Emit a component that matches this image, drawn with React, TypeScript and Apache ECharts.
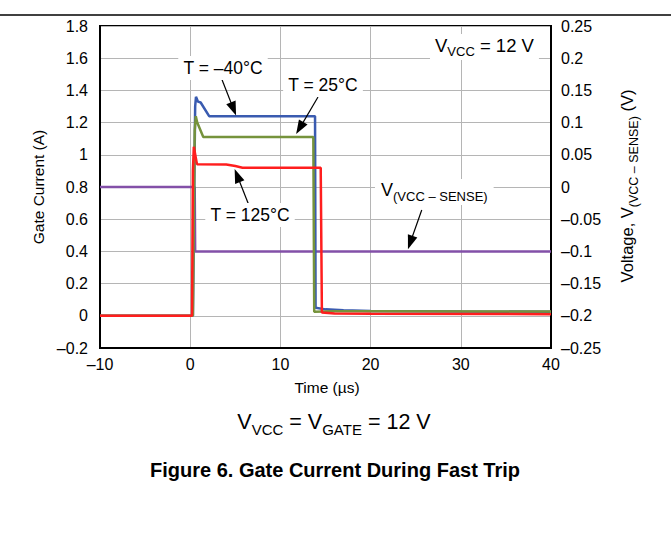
import React, { useEffect, useRef } from "react";
import * as echarts from "echarts";

// Time (µs) / value pairs
const blueTime = [-10, 0.3, 0.55, 0.64, 0.86, 1.16, 2.1, 13.84, 13.9, 15, 17, 20, 30, 40];
const blueCurrent = [0, 0, 1.3, 1.36, 1.33, 1.325, 1.24, 1.24, 0.05, 0.04, 0.034, 0.03, 0.027, 0.025];

const greenTime = [-10, 0.3, 0.5, 0.62, 0.78, 1.45, 13.65, 13.75, 16, 20, 40];
const greenCurrent = [0, 0, 1.15, 1.24, 1.2, 1.11, 1.11, 0.025, 0.028, 0.028, 0.027];

const redTime = [-10, 0.2, 0.3, 0.4, 0.75, 4.0, 5.0, 5.8, 14.47, 14.6, 16, 20, 40];
const redCurrent = [0, 0, 0.9, 1.05, 0.942, 0.94, 0.93, 0.92, 0.92, 0.02, 0.014, 0.012, 0.01];

const purpleTime = [-10, 0.5, 0.55, 40];
const purpleVoltage = [0, 0, -0.1, -0.1];

// Annotation arrows: [tStart, iStart, tEnd, iEnd] in left-axis data units
const arrowM40 = [3.41, 1.483, 4.8, 1.285];
const arrow25 = [14.17, 1.359, 12.14, 1.166];
const arrow125 = [6.52, 0.685, 5.21, 0.871];
const arrowV = [25.67, 0.657, 24.4, 0.455];

const xTicks = { min: -10, max: 40, interval: 10 };
const yLeftTicks = { min: -0.2, max: 1.8, interval: 0.2 };
const yRightTicks = { min: -0.25, max: 0.25, interval: 0.05 };

const FONT = "'Liberation Sans', Arial, Helvetica, sans-serif";

const pairs = (xs: number[], ys: number[]) => xs.map((x, i) => [x, ys[i]]);
const fmt = (v: number) => {
  const n = parseFloat(v.toFixed(3));
  const s = String(Math.abs(n));
  return n < 0 ? "\u2013" + s : s;
};
const arrowData = (a: number[]) => [{ coord: [a[0], a[1]] }, { coord: [a[2], a[3]] }];

export default function App() {
  const ref = useRef<HTMLDivElement>(null);
  useEffect(() => {
    if (!ref.current) return;
    const chart = echarts.init(ref.current, undefined, { renderer: "svg" });
    const labelStyle = { color: "#000", fontFamily: FONT, fontSize: 16 };
    const annot = (x: number, y: number, text: string, align = "center") => ({
      type: "text",
      x,
      y,
      z: 50,
      style: {
        text,
        align,
        verticalAlign: "middle",
        fill: "#000",
        font: `17.5px ${FONT}`,
        backgroundColor: "#fff",
        padding: [3, 5],
      },
    });
    chart.setOption({
      animation: false,
      grid: {
        left: 100,
        top: 26,
        width: 451,
        height: 322,
        show: true,
        borderColor: "#000",
        borderWidth: 2,
        backgroundColor: "transparent",
      },
      xAxis: {
        type: "value",
        ...xTicks,
        axisLine: { show: true, onZero: false, lineStyle: { color: "#000", width: 2 } },
        axisTick: { show: false },
        axisLabel: { ...labelStyle, margin: 8, formatter: fmt },
        splitLine: { show: true, lineStyle: { color: "#b5b5b5", width: 1 } },
      },
      yAxis: [
        {
          type: "value",
          ...yLeftTicks,
          axisLine: { show: true, onZero: false, lineStyle: { color: "#000", width: 2 } },
          axisTick: { show: false },
          axisLabel: { ...labelStyle, margin: 12, formatter: fmt },
          splitLine: { show: true, lineStyle: { color: "#b5b5b5", width: 1 } },
        },
        {
          type: "value",
          position: "right",
          ...yRightTicks,
          axisLine: { show: true, onZero: false, lineStyle: { color: "#000", width: 2 } },
          axisTick: { show: false },
          axisLabel: { ...labelStyle, margin: 10, formatter: fmt },
          splitLine: { show: false },
        },
      ],
      series: [
        {
          type: "line",
          name: "V(VCC-SENSE)",
          yAxisIndex: 1,
          data: pairs(purpleTime, purpleVoltage),
          showSymbol: false,
          lineStyle: { color: "#8350a8", width: 2.5 },
          z: 3,
        },
        {
          type: "line",
          name: "T = -40°C",
          data: pairs(blueTime, blueCurrent),
          showSymbol: false,
          lineStyle: { color: "#3a5bb0", width: 2.5 },
          z: 4,
        },
        {
          type: "line",
          name: "T = 25°C",
          data: pairs(greenTime, greenCurrent),
          showSymbol: false,
          lineStyle: { color: "#76933c", width: 2.5 },
          z: 5,
        },
        {
          type: "line",
          name: "T = 125°C",
          data: pairs(redTime, redCurrent),
          showSymbol: false,
          lineStyle: { color: "#ff1e1e", width: 2.5 },
          z: 6,
          markLine: {
            silent: true,
            symbol: ["none", "triangle"],
            symbolSize: [10, 14],
            label: { show: false },
            lineStyle: { color: "#000", width: 1.2, type: "solid" },
            itemStyle: { color: "#000" },
            emphasis: { disabled: true },
            data: [arrowData(arrowM40), arrowData(arrow25), arrowData(arrow125), arrowData(arrowV)],
          },
        },
      ],
      graphic: [
        {
          type: "line",
          shape: { x1: 0, y1: 15, x2: 671, y2: 15 },
          style: { stroke: "#000", lineWidth: 1.5 },
        },
        {
          type: "text",
          x: 38,
          y: 187,
          rotation: Math.PI / 2,
          style: {
            text: "Gate Current (A)",
            align: "center",
            verticalAlign: "middle",
            fill: "#000",
            font: `15.5px ${FONT}`,
          },
        },
        {
          type: "text",
          x: 629,
          y: 186,
          rotation: Math.PI / 2,
          style: {
            text: "{a|Voltage, V}{b|(VCC \u2013 SENSE)}{a| (V)}",
            align: "center",
            verticalAlign: "middle",
            fill: "#000",
            rich: {
              a: { fontSize: 16.5, fontFamily: FONT, lineHeight: 22, verticalAlign: "top", fill: "#000" },
              b: { fontSize: 12.5, fontFamily: FONT, lineHeight: 10, verticalAlign: "bottom", fill: "#000" },
            },
          },
        },
        {
          type: "text",
          x: 327,
          y: 387,
          style: {
            text: "Time (\u00b5s)",
            align: "center",
            verticalAlign: "middle",
            fill: "#000",
            font: `15.5px ${FONT}`,
          },
        },
        {
          type: "text",
          x: 334,
          y: 424,
          style: {
            text: "{a|V}{b|VCC}{a| = V}{b|GATE}{a| = 12 V}",
            align: "center",
            verticalAlign: "middle",
            fill: "#000",
            rich: {
              a: { fontSize: 21.5, fontFamily: FONT, lineHeight: 26, verticalAlign: "top", fill: "#000" },
              b: { fontSize: 15, fontFamily: FONT, lineHeight: 13, verticalAlign: "bottom", fill: "#000" },
            },
          },
        },
        {
          type: "text",
          x: 335,
          y: 470,
          style: {
            text: "Figure 6. Gate Current During Fast Trip",
            align: "center",
            verticalAlign: "middle",
            fill: "#000",
            font: `bold 20px ${FONT}`,
          },
        },
        annot(223, 68, "T = \u201340\u00b0C"),
        annot(323, 85, "T = 25\u00b0C"),
        annot(250, 215, "T = 125\u00b0C"),
        {
          type: "text",
          x: 375,
          y: 192,
          z: 50,
          style: {
            text: "{a|V}{b|(VCC \u2013 SENSE)}",
            align: "left",
            verticalAlign: "middle",
            backgroundColor: "#fff",
            padding: [2, 6],
            rich: {
              a: { fontSize: 18, fontFamily: FONT, lineHeight: 22, verticalAlign: "top", fill: "#000" },
              b: { fontSize: 13, fontFamily: FONT, lineHeight: 10, verticalAlign: "bottom", fill: "#000" },
            },
          },
        },
        {
          type: "text",
          x: 430,
          y: 47,
          z: 50,
          style: {
            text: "{a|V}{b|VCC}{a| = 12 V}",
            align: "left",
            verticalAlign: "middle",
            backgroundColor: "#fff",
            padding: [2, 5],
            rich: {
              a: { fontSize: 18.5, fontFamily: FONT, lineHeight: 22, verticalAlign: "top", fill: "#000" },
              b: { fontSize: 13, fontFamily: FONT, lineHeight: 10, verticalAlign: "bottom", fill: "#000" },
            },
          },
        },
      ],
    });
    return () => chart.dispose();
  }, []);
  return (
    <div
      ref={ref}
      style={{ position: "absolute", left: 0, top: 0, width: 671, height: 542, background: "#fff" }}
    />
  );
}
